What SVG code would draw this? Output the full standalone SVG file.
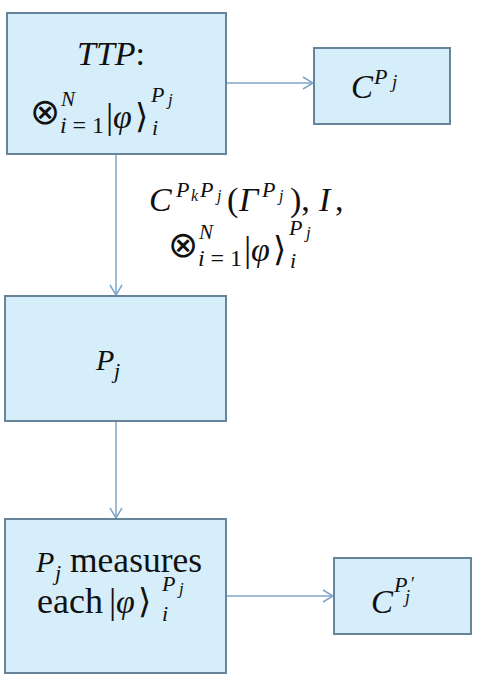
<svg xmlns="http://www.w3.org/2000/svg" width="484" height="683" viewBox="0 0 484 683" font-family="'Liberation Serif', 'DejaVu Serif', 'Times New Roman', serif">
<style>
.box{fill:#d6eefa;stroke:#66849a;stroke-width:2}
text{font-family:'Liberation Serif','DejaVu Serif','Times New Roman',serif;fill:#111}
.i{font-style:italic}
.op{font-family:'DejaVu Sans',sans-serif;font-weight:normal}
.con{stroke:#7ea6c8;stroke-width:1.5;fill:none}
</style>
<defs>
<marker id="ah" markerWidth="14" markerHeight="14" refX="11" refY="7" orient="auto" markerUnits="userSpaceOnUse">
<path d="M1,1 L11,7 L1,13" fill="none" stroke="#7ea6c8" stroke-width="1.5"/>
</marker>
</defs>
<rect width="484" height="683" fill="#fff"/>
<g id="connectors">
<line class="con" x1="226" y1="83" x2="313" y2="83" marker-end="url(#ah)"/>
<line class="con" x1="116" y1="154" x2="116" y2="295" marker-end="url(#ah)"/>
<line class="con" x1="116" y1="421" x2="116" y2="518" marker-end="url(#ah)"/>
<line class="con" x1="226" y1="596" x2="333" y2="596" marker-end="url(#ah)"/>
</g>
<g id="ttp">
<rect class="box" x="7" y="13" width="219" height="141"/>
<text x="111" y="65" font-size="34" text-anchor="middle"><tspan class="i">TTP</tspan>:</text>
<text class="op" x="30" y="124" font-size="36">⊗</text>
<text class="i" x="61" y="106" font-size="21">N</text>
<text x="60" y="133" font-size="24" textLength="44" lengthAdjust="spacing"><tspan class="i">i</tspan>=1</text>
<text x="106" y="128" font-size="36">|</text>
<text class="i" x="113" y="128" font-size="34">φ</text>
<text x="135" y="128" font-size="34">⟩</text>
<text class="i" x="151" y="102" font-size="22">P</text>
<text class="i" x="168" y="105" font-size="17">j</text>
<text class="i" x="152" y="135" font-size="22">i</text>
</g>
<g id="cpj">
<rect class="box" x="314" y="48" width="136" height="76"/>
<text class="i" x="351" y="98" font-size="33">C</text>
<text class="i" x="374" y="84" font-size="22">P</text>
<text class="i" x="392" y="88" font-size="19">j</text>
</g>
<g id="label">
<text class="i" x="149" y="211" font-size="34">C</text>
<text class="i" x="176" y="197" font-size="22">P</text>
<text class="i" x="191" y="201" font-size="16">k</text>
<text class="i" x="200" y="197" font-size="22">P</text>
<text class="i" x="217" y="201" font-size="16">j</text>
<text x="227" y="211" font-size="34">(</text>
<text class="i" x="239" y="211" font-size="34">Γ</text>
<text class="i" x="262" y="197" font-size="22">P</text>
<text class="i" x="279" y="201" font-size="16">j</text>
<text x="290" y="211" font-size="34">),</text>
<text class="i" x="319" y="211" font-size="34">I</text>
<text x="335" y="211" font-size="34">,</text>
<text class="op" x="168" y="257" font-size="36">⊗</text>
<text class="i" x="199" y="239" font-size="21">N</text>
<text x="198" y="266" font-size="24" textLength="44" lengthAdjust="spacing"><tspan class="i">i</tspan>=1</text>
<text x="244" y="261" font-size="36">|</text>
<text class="i" x="251" y="261" font-size="34">φ</text>
<text x="273" y="261" font-size="34">⟩</text>
<text class="i" x="289" y="235" font-size="22">P</text>
<text class="i" x="306" y="238" font-size="17">j</text>
<text class="i" x="290" y="268" font-size="22">i</text>
</g>
<g id="pj">
<rect class="box" x="5" y="296" width="221" height="125"/>
<text class="i" x="96" y="370" font-size="30">P</text>
<text class="i" x="114" y="378" font-size="22">j</text>
</g>
<g id="measure">
<rect class="box" x="5" y="519" width="221" height="154"/>
<text class="i" x="36" y="572" font-size="30">P</text>
<text class="i" x="55" y="580" font-size="22">j</text>
<text x="70" y="572" font-size="35.5">measures</text>
<text x="37" y="613" font-size="36">each</text>
<text x="109" y="613" font-size="36">|</text>
<text class="i" x="116" y="613" font-size="34">φ</text>
<text x="138" y="613" font-size="34">⟩</text>
<text class="i" x="162" y="591" font-size="22">P</text>
<text class="i" x="179" y="594" font-size="17">j</text>
<text class="i" x="162" y="621" font-size="22">i</text>
</g>
<g id="cpjp">
<rect class="box" x="334" y="558" width="137" height="76"/>
<text class="i" x="371" y="613" font-size="33">C</text>
<text class="i" x="394" y="592" font-size="22">P</text>
<text x="411" y="590" font-size="18">′</text>
<text class="i" x="405" y="603" font-size="18">j</text>
</g>
</svg>
